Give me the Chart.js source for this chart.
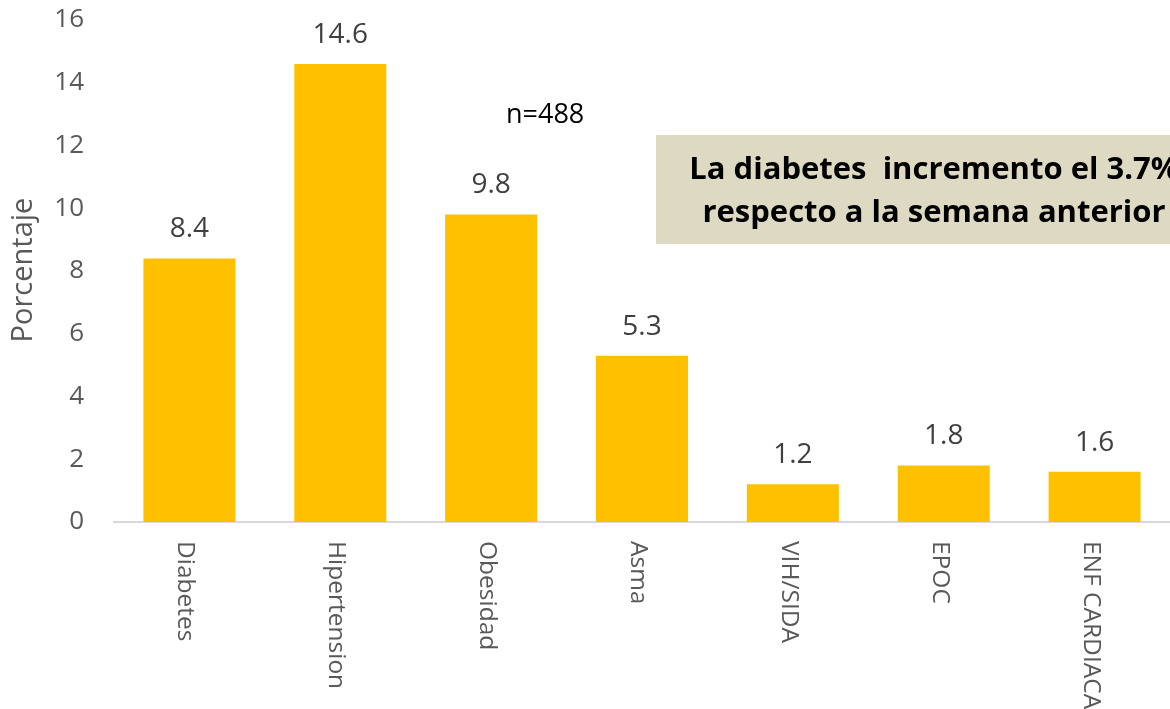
<!DOCTYPE html>
<html>
<head>
<meta charset="utf-8">
<script src="https://cdn.jsdelivr.net/npm/chart.js@4"></script>
<style>
html,body{margin:0;padding:0;background:#fff;}
#wrap{width:1170px;height:709px;position:relative;overflow:hidden;}
</style>
</head>
<body>
<div id="wrap"><canvas id="mainChart" width="1170" height="709"></canvas></div>
<script>
// ================= DATA =================
let categories = ["Diabetes","Hipertension","Obesidad","Asma","VIH/SIDA","EPOC","ENF CARDIACA"]
let porcentajes = [8.4,14.6,9.8,5.3,1.2,1.8,1.6]
let yTicks = [0,2,4,6,8,10,12,14,16]

let fontFam = "'Open Sans', sans-serif"
let grayText = "#595959"

// ================= TEXT PLUGIN =================
let textPlugin = {
id:"textPlugin",
afterDraw(chart){
let ctx = chart.ctx
let xs = chart.scales.x
let ys = chart.scales.y
let meta = chart.getDatasetMeta(0)
ctx.save()

// ticks eje y
ctx.fillStyle = grayText
ctx.font = "26px " + fontFam
ctx.textAlign = "right"
ctx.textBaseline = "middle"
yTicks.forEach(v=>{
ctx.fillText(String(v), 84, ys.getPixelForValue(v))
})

// valores sobre las barras
ctx.fillStyle = "#404040"
ctx.font = "28px " + fontFam
ctx.textAlign = "center"
ctx.textBaseline = "middle"
meta.data.forEach((bar,i)=>{
ctx.fillText(String(porcentajes[i]), bar.x, bar.y - 29)
})

// etiquetas del eje x (giradas hacia abajo)
ctx.fillStyle = grayText
ctx.font = "24.5px " + fontFam
categories.forEach((c,i)=>{
let x = xs.getPixelForValue(i)
ctx.save()
ctx.translate(x - 4, xs.top + 19)
ctx.rotate(Math.PI/2)
ctx.textAlign = "left"
ctx.textBaseline = "middle"
ctx.fillText(c,0,0)
ctx.restore()
})

// titulo eje y
ctx.save()
ctx.translate(24, 270)
ctx.rotate(-Math.PI/2)
ctx.font = "29px " + fontFam
ctx.textAlign = "center"
ctx.textBaseline = "middle"
ctx.fillText("Porcentaje",0,0)
ctx.restore()

// n
ctx.fillStyle = "#000"
ctx.font = "27px " + fontFam
ctx.textAlign = "left"
ctx.textBaseline = "middle"
ctx.fillText("n=488", 506, 115)

// recuadro
ctx.fillStyle = "#DDD9C3"
ctx.fillRect(656,135,560,109)
ctx.fillStyle = "#000"
ctx.font = "bold 31px " + fontFam
ctx.textAlign = "center"
ctx.fillText("La diabetes  incremento el 3.7%", 934, 170)
ctx.fillText("respecto a la semana anterior", 934, 213)

ctx.restore()
}
}

// ================= CHART =================
let ctx = document.getElementById("mainChart")

new Chart(ctx,{
type:"bar",
data:{
labels:categories,
datasets:[{
label:"Porcentaje",
data:porcentajes,
backgroundColor:"#FFC000",
categoryPercentage:1,
barPercentage:0.61
}]
},
options:{
responsive:false,
animation:false,
layout:{padding:{top:20,right:0,left:0,bottom:0}},
plugins:{legend:{display:false},tooltip:{enabled:false}},
scales:{
x:{
grid:{display:false,drawTicks:false},
border:{display:true,color:"#d9d9d9",width:2},
ticks:{display:false},
afterFit(scale){ scale.height = 187 }
},
y:{
min:0,max:16,
grid:{display:false,drawTicks:false},
border:{display:false},
afterBuildTicks(scale){ scale.ticks = yTicks.map(v=>({value:v})) },
ticks:{display:false},
afterFit(scale){ scale.width = 114 }
}
}
},
plugins:[textPlugin]
})
</script>
</body>
</html>
